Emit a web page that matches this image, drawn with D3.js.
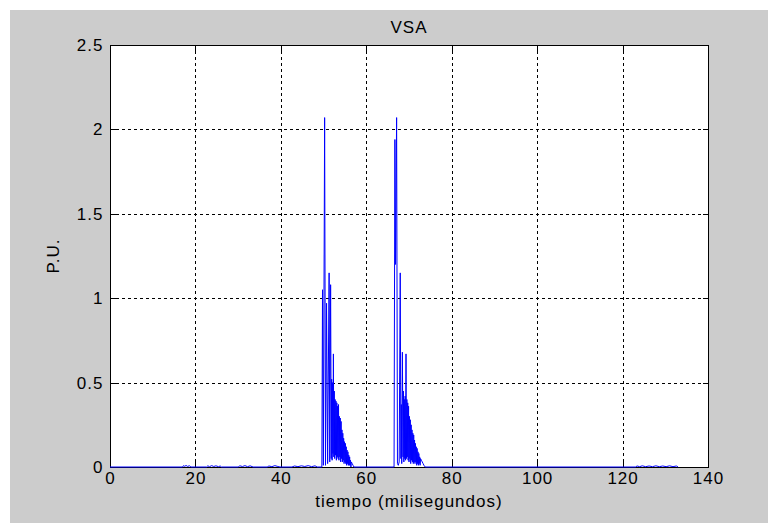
<!DOCTYPE html>
<html>
<head>
<meta charset="utf-8">
<script src="https://cdn.jsdelivr.net/npm/d3@7"></script>
<style>
  html, body { margin: 0; padding: 0; background: #ffffff; }
  svg { display: block; }
  text { font-family: "Liberation Sans", Arial, sans-serif; fill: #000; }
</style>
</head>
<body>
<svg id="chart" width="768" height="523"></svg>
<script>
// ---------------- data ----------------
const chartTitle = "VSA";
const xLabel = "tiempo (milisegundos)";
const yLabel = "P.U.";
const xTicks = [0, 20, 40, 60, 80, 100, 120, 140];
const yTicks = [0, 0.5, 1, 1.5, 2, 2.5];

// [tiempo (ms), valor (P.U.)]
const ruidoInicial = [
  [0,0],[17.0,0],[17.2,0.008],[17.5,0.004],[17.8,0.009],[18.2,0.003],[18.6,0.008],[18.9,0],
  [22.6,0],[22.9,0.007],[23.3,0.002],[23.8,0.008],[24.3,0.003],[24.8,0.007],[25.4,0.002],[25.8,0.006],[26.1,0],
  [30.0,0],[30.4,0.007],[31.0,0.003],[31.6,0.008],[32.2,0.002],[32.8,0.007],[33.5,0],
  [36.8,0],[37.2,0.006],[37.9,0.002],[38.6,0.008],[39.3,0.003],[39.8,0],
  [42.6,0],[43.2,0.006],[44.0,0.002],[44.8,0.007],[45.6,0.003],[46.4,0.008],[47.2,0.002],[48.0,0.007],[48.5,0]
];
const rafaga1 = [
  [49.6,0],[49.75,1.05],[49.95,0.01],[50.25,2.07],[50.45,0.01],[50.7,0.97],[50.95,0.02],[51.3,1.15],
  [51.45,0.03],[51.65,1.08],[51.8,0.05],[51.9,0.52],[52.0,0.04],[52.1,0.50],[52.2,0.08],[52.3,0.67],
  [52.4,0.06],[52.5,0.45],[52.6,0.05],[52.7,0.40],[52.8,0.07],[52.9,0.39],[53.0,0.04],[53.1,0.38],
  [53.2,0.06],[53.3,0.36],[53.4,0.05],[53.5,0.37],[53.6,0.04],[53.7,0.30],[53.8,0.06],[53.9,0.29],
  [54.0,0.03],[54.1,0.27],[54.2,0.05],[54.3,0.22],[54.4,0.03],[54.5,0.20],[54.6,0.04],[54.7,0.17],
  [54.8,0.02],[54.9,0.15],[55.0,0.03],[55.1,0.14],[55.2,0.02],[55.3,0.12],[55.4,0.01],[55.5,0.10],
  [55.6,0.02],[55.7,0.09],[55.8,0.01],[55.9,0.07],[56.0,0.01],[56.1,0.06],[56.2,0.01],[56.3,0.04],
  [56.4,0],[56.5,0.03],[56.7,0.02],[56.9,0.01],[57.1,0]
];
const rafaga2 = [
  [66.5,0],[66.7,1.94],[66.85,1.2],[67.1,2.07],[67.3,0.02],[67.5,0.01],[67.7,0.03],[67.95,1.15],
  [68.1,0.05],[68.2,0.37],[68.3,0.02],[68.45,0.68],[68.6,0.06],[68.7,0.45],[68.8,0.03],[68.9,0.40],
  [69.0,0.05],[69.1,0.42],[69.2,0.04],[69.3,0.67],[69.4,0.05],[69.5,0.40],[69.6,0.06],[69.7,0.38],
  [69.8,0.04],[69.9,0.36],[70.0,0.03],[70.1,0.30],[70.2,0.05],[70.3,0.28],[70.4,0.02],[70.5,0.25],
  [70.6,0.04],[70.7,0.22],[70.8,0.03],[70.9,0.20],[71.0,0.02],[71.1,0.19],[71.2,0.03],[71.3,0.16],
  [71.4,0.02],[71.5,0.14],[71.6,0.03],[71.7,0.12],[71.8,0.01],[71.9,0.11],[72.0,0.02],[72.1,0.09],
  [72.2,0.01],[72.3,0.08],[72.4,0.02],[72.5,0.06],[72.6,0.01],[72.7,0.05],[72.9,0.04],[73.1,0.03],
  [73.3,0.02],[73.5,0.01],[73.8,0]
];
const ruidoFinal = [
  [123.0,0],[123.4,0.006],[124.0,0.002],[124.6,0.007],[125.4,0.002],[126.2,0.006],[127.0,0.002],
  [127.8,0.007],[128.6,0.002],[129.4,0.006],[130.2,0.002],[131.0,0.007],[131.8,0.002],[132.6,0.006],[133.0,0]
];

// ---------------- drawing ----------------
const serie = [].concat(ruidoInicial, rafaga1, rafaga2, ruidoFinal);

const W = 768, H = 523;
const m = { left: 110, right: 708, top: 45, bottom: 467 };
const svg = d3.select("#chart");

svg.append("rect").attr("x", 10).attr("y", 10).attr("width", W - 10).attr("height", H - 10)
  .attr("fill", "#cccccc");

const x = d3.scaleLinear().domain([0, 140]).range([m.left, m.right]);
const y = d3.scaleLinear().domain([0, 2.5]).range([m.bottom, m.top]);

svg.append("rect").attr("x", m.left).attr("y", m.top)
  .attr("width", m.right - m.left).attr("height", m.bottom - m.top).attr("fill", "#ffffff");

// grid
const grid = svg.append("g").attr("stroke", "#000").attr("stroke-width", 1)
  .attr("stroke-dasharray", "3,3").attr("shape-rendering", "crispEdges");
grid.selectAll("line.v").data(xTicks.slice(1, -1)).join("line")
  .attr("x1", d => Math.round(x(d)) + 0.5).attr("x2", d => Math.round(x(d)) + 0.5)
  .attr("y1", m.top).attr("y2", m.bottom);
grid.selectAll("line.h").data(yTicks.slice(1, -1)).join("line")
  .attr("y1", d => Math.round(y(d)) + 0.5).attr("y2", d => Math.round(y(d)) + 0.5)
  .attr("x1", m.left).attr("x2", m.right);

// axes (ticks inward)
const tickLen = 6;
const fontCss = "font-size:17px;letter-spacing:1px";
const axB = svg.append("g").attr("transform", `translate(0,${m.bottom + 0.5})`)
  .call(d3.axisBottom(x).tickValues(xTicks).tickFormat(d3.format("d")).tickSize(-tickLen).tickPadding(4));
const axT = svg.append("g").attr("transform", `translate(0,${m.top + 0.5})`)
  .call(d3.axisTop(x).tickValues(xTicks).tickFormat("").tickSize(-tickLen));
const axL = svg.append("g").attr("transform", `translate(${m.left + 0.5},0)`)
  .call(d3.axisLeft(y).tickValues(yTicks).tickFormat(d => d3.format("")(d)).tickSize(-tickLen).tickPadding(7));
const axR = svg.append("g").attr("transform", `translate(${m.right + 0.5},0)`)
  .call(d3.axisRight(y).tickValues(yTicks).tickFormat("").tickSize(-tickLen));
[axB, axT, axL, axR].forEach(a => {
  a.select(".domain").remove();
  a.selectAll(".tick line").attr("stroke", "#000").attr("shape-rendering", "crispEdges");
  a.selectAll("text").attr("style", fontCss).attr("font-family", "Liberation Sans, Arial, sans-serif").attr("fill", "#000");
});
// box
svg.append("rect").attr("x", m.left + 0.5).attr("y", m.top + 0.5)
  .attr("width", m.right - m.left).attr("height", m.bottom - m.top)
  .attr("fill", "none").attr("stroke", "#000").attr("shape-rendering", "crispEdges");

// data line
const line = d3.line().x(d => x(d[0])).y(d => y(d[1]));
svg.append("path").datum(serie).attr("d", line)
  .attr("fill", "none").attr("stroke", "#0000ff").attr("stroke-width", 1);

// labels
svg.append("text").attr("x", (m.left + m.right) / 2).attr("y", 33)
  .attr("text-anchor", "middle").attr("style", fontCss).text(chartTitle);
svg.append("text").attr("x", (m.left + m.right) / 2).attr("y", 507)
  .attr("text-anchor", "middle").attr("style", fontCss).text(xLabel);
svg.append("text").attr("transform", `translate(59,${(m.top + m.bottom) / 2}) rotate(-90)`)
  .attr("text-anchor", "middle").attr("style", fontCss).text(yLabel);
</script>
</body>
</html>
